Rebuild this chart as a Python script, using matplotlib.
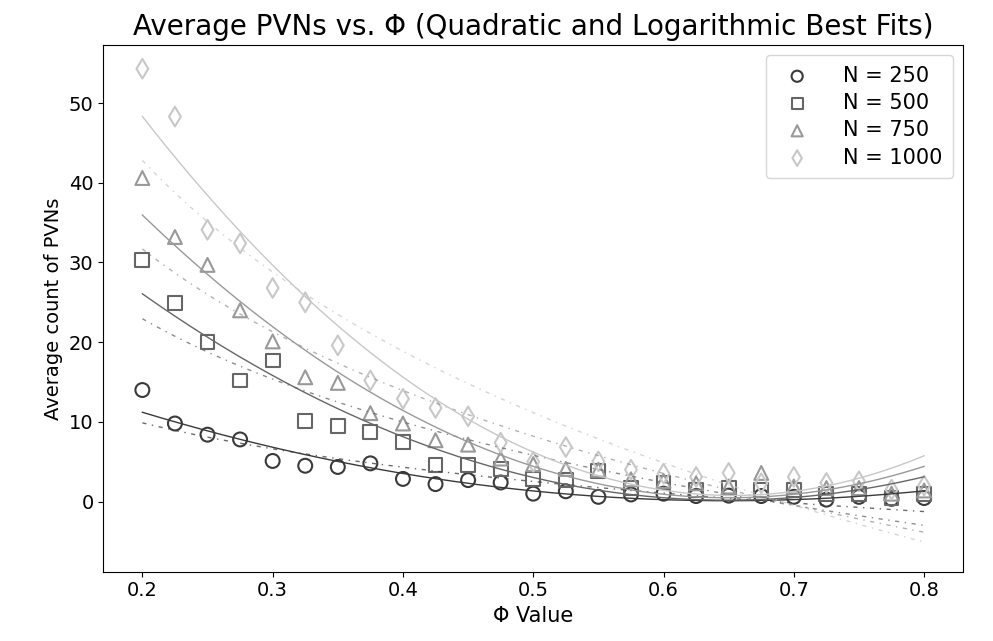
import numpy as np
import matplotlib.pyplot as plt

# Giá trị Phi
phi = np.round(np.arange(0.2, 0.8001, 0.025), 3)

# Số PVN trung bình cho từng N
n250 = [14.0, 9.8, 8.4, 7.8, 5.1, 4.5, 4.35, 4.8, 2.85, 2.2, 2.7, 2.4, 1.0,
        1.3, 0.6, 0.9, 1.0, 0.7, 0.75, 0.7, 0.6, 0.25, 0.6, 0.35, 0.45]
n500 = [30.3, 24.9, 20.0, 15.2, 17.7, 10.1, 9.45, 8.75, 7.45, 4.6, 4.6, 4.1, 2.8,
        2.7, 3.8, 1.7, 2.4, 1.5, 1.7, 1.5, 1.5, 1.0, 1.0, 0.4, 1.0]
n750 = [40.6, 33.2, 29.7, 24.0, 20.1, 15.6, 14.9, 11.1, 9.8, 7.7, 7.15, 5.4, 4.7,
        4.1, 4.0, 2.8, 2.6, 2.3, 1.9, 3.6, 1.9, 1.7, 1.7, 1.0, 1.4]
n1000 = [54.3, 48.3, 34.1, 32.4, 26.8, 25.0, 19.6, 15.2, 12.9, 11.75, 10.7, 7.4, 5.0,
         6.85, 5.05, 4.0, 3.5, 3.1, 3.6, 2.3, 3.1, 2.35, 2.55, 1.5, 2.0]

labels = ['N = 250', 'N = 500', 'N = 750', 'N = 1000']
markers = ['o', 's', '^', 'd']
colors = ['#3a3a3a', '#666666', '#999999', '#c8c8c8']
series = [n250, n500, n750, n1000]

plt.rcParams['font.family'] = 'DejaVu Sans'
fig = plt.figure(figsize=(9.93, 6.41), dpi=100)
ax = fig.add_axes([0.104, 0.108, 0.866, 0.822])

xs = np.linspace(0.2, 0.8, 200)
for y, lab, m, c in zip(series, labels, markers, colors):
    y = np.array(y)
    ax.scatter(phi, y, marker=m, s=100, facecolors='none', edgecolors=c,
               linewidths=1.5, label=lab)
    # Đường khớp bậc hai
    p = np.polyfit(phi, y, 2)
    ax.plot(xs, np.polyval(p, xs), '-', color=c, linewidth=1.0)
    # Đường khớp logarit
    q = np.polyfit(np.log(phi), y, 1)
    ax.plot(xs, np.polyval(q, np.log(xs)), linestyle=(0, (3, 4, 1, 4)),
            color=c, linewidth=1.0, alpha=0.75)

ax.set_ylim(-8.8, 57.3)
ax.set_title('Average PVNs vs. Φ (Quadratic and Logarithmic Best Fits)',
             fontsize=20, pad=7)
ax.set_xlabel('Φ Value', fontsize=15)
ax.set_ylabel('Average count of PVNs', fontsize=14)
ax.tick_params(labelsize=14)
ax.legend(fontsize=15, markerscale=0.8, loc='upper right',
          handletextpad=1.2, borderpad=0.5, labelspacing=0.35)

fig.savefig('out.png', dpi=100)
